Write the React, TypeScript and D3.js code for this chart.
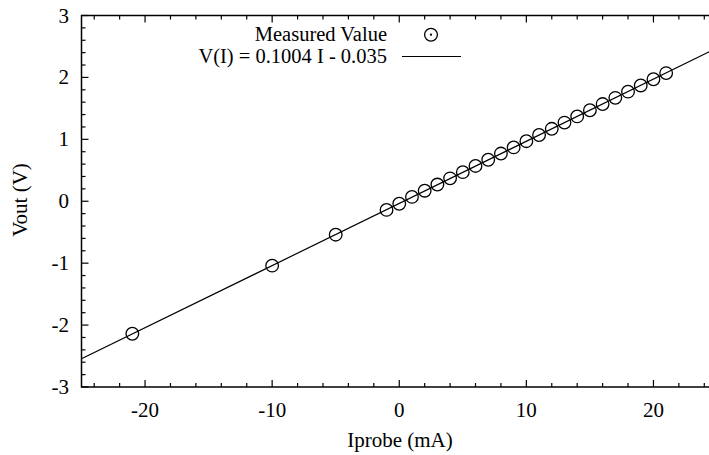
import React from "react";
import * as d3 from "d3";

const currents = [-21, -10, -5, -1, 0, 1, 2, 3, 4, 5, 6, 7, 8, 9, 10, 11, 12, 13, 14, 15, 16, 17, 18, 19, 20, 21];
const voltages = [-2.14, -1.04, -0.54, -0.14, -0.04, 0.07, 0.17, 0.27, 0.37, 0.47, 0.57, 0.67, 0.77, 0.87, 0.97, 1.07, 1.17, 1.27, 1.37, 1.47, 1.57, 1.67, 1.77, 1.87, 1.97, 2.07];
const fitSlope = 0.1004;
const fitIntercept = -0.035;
const xMajorTicks = [-20, -10, 0, 10, 20];
const yMajorTicks = [-3, -2, -1, 0, 1, 2, 3];
const legendLabels = ["Measured Value", "V(I) = 0.1004 I - 0.035"];

const W = 709;
const H = 455;
const FONT =
  '"Liberation Serif", Tinos, "Times New Roman", Times, "Nimbus Roman", FreeSerif, "DejaVu Serif", serif';
const textStyle: React.CSSProperties = { fontFamily: FONT, fontSize: "21px" };
const legendStyle: React.CSSProperties = { fontFamily: FONT, fontSize: "20.5px" };

export default function App() {
  const x = d3.scaleLinear().domain([-25, 25]).range([81.5, 717]);
  const y = d3.scaleLinear().domain([-3, 3]).range([387, 15.5]);
  const [x0, x1] = x.range();
  const [yb, yt] = y.range();

  const xMinor = d3.range(-24, 25, 2).filter((v) => !xMajorTicks.includes(v));
  const yMinor = d3.range(-3, 3.001, 0.2).map((v) => +v.toFixed(1)).filter((v) => !yMajorTicks.includes(v));

  const fit = d3.line<number>().x((v) => x(v)).y((v) => y(fitSlope * v + fitIntercept));
  const fitPath = fit([-25, 25]) || "";

  const maj = 7;
  const min = 4;

  return (
    <svg width={W} height={H} style={{ position: "absolute", left: 0, top: 0, background: "#fff" }}>
      <defs>
        <clipPath id="plot">
          <rect x={x0} y={yt} width={x1 - x0} height={yb - yt} />
        </clipPath>
      </defs>

      {/* fitted line and measured points */}
      <g clipPath="url(#plot)">
        <path d={fitPath} fill="none" stroke="#000" strokeWidth={1.2} />
        {currents.map((c, i) => (
          <circle key={i} cx={x(c)} cy={y(voltages[i])} r={6.3} fill="none" stroke="#000" strokeWidth={1.3} />
        ))}
      </g>

      {/* ticks on all four sides */}
      <g stroke="#000" strokeWidth={1.2}>
        {xMajorTicks.map((v) => (
          <g key={"xm" + v}>
            <line x1={x(v)} x2={x(v)} y1={yb} y2={yb - maj} />
            <line x1={x(v)} x2={x(v)} y1={yt} y2={yt + maj} />
          </g>
        ))}
        {xMinor.map((v) => (
          <g key={"xn" + v}>
            <line x1={x(v)} x2={x(v)} y1={yb} y2={yb - min} />
            <line x1={x(v)} x2={x(v)} y1={yt} y2={yt + min} />
          </g>
        ))}
        {yMajorTicks.map((v) => (
          <g key={"ym" + v}>
            <line x1={x0} x2={x0 + maj} y1={y(v)} y2={y(v)} />
            <line x1={x1} x2={x1 - maj} y1={y(v)} y2={y(v)} />
          </g>
        ))}
        {yMinor.map((v) => (
          <g key={"yn" + v}>
            <line x1={x0} x2={x0 + min} y1={y(v)} y2={y(v)} />
            <line x1={x1} x2={x1 - min} y1={y(v)} y2={y(v)} />
          </g>
        ))}
      </g>

      <rect x={x0} y={yt} width={x1 - x0} height={yb - yt} fill="none" stroke="#000" strokeWidth={1.5} />

      {/* tick labels */}
      <g fill="#000">
        {xMajorTicks.map((v) => (
          <text key={"xl" + v} x={x(v)} y={417} textAnchor="middle" style={textStyle}>
            {v}
          </text>
        ))}
        {yMajorTicks.map((v) => (
          <text key={"yl" + v} x={69} y={y(v) + 7} textAnchor="end" style={textStyle}>
            {v}
          </text>
        ))}
      </g>

      {/* axis titles */}
      <text x={400} y={447} textAnchor="middle" style={textStyle}>
        Iprobe (mA)
      </text>
      <text transform={`translate(27, 200) rotate(-90)`} textAnchor="middle" style={textStyle}>
        Vout (V)
      </text>

      {/* legend */}
      <g>
        <text x={387} y={41.2} textAnchor="end" style={legendStyle}>
          {legendLabels[0]}
        </text>
        <circle cx={431} cy={34.7} r={6.4} fill="none" stroke="#000" strokeWidth={1.3} />
        <circle cx={431} cy={34.7} r={1.1} fill="#000" />
        <text x={387} y={63.3} textAnchor="end" style={legendStyle}>
          {legendLabels[1]}
        </text>
        <line x1={402} x2={461} y1={56.5} y2={56.5} stroke="#000" strokeWidth={1.2} />
      </g>
    </svg>
  );
}
